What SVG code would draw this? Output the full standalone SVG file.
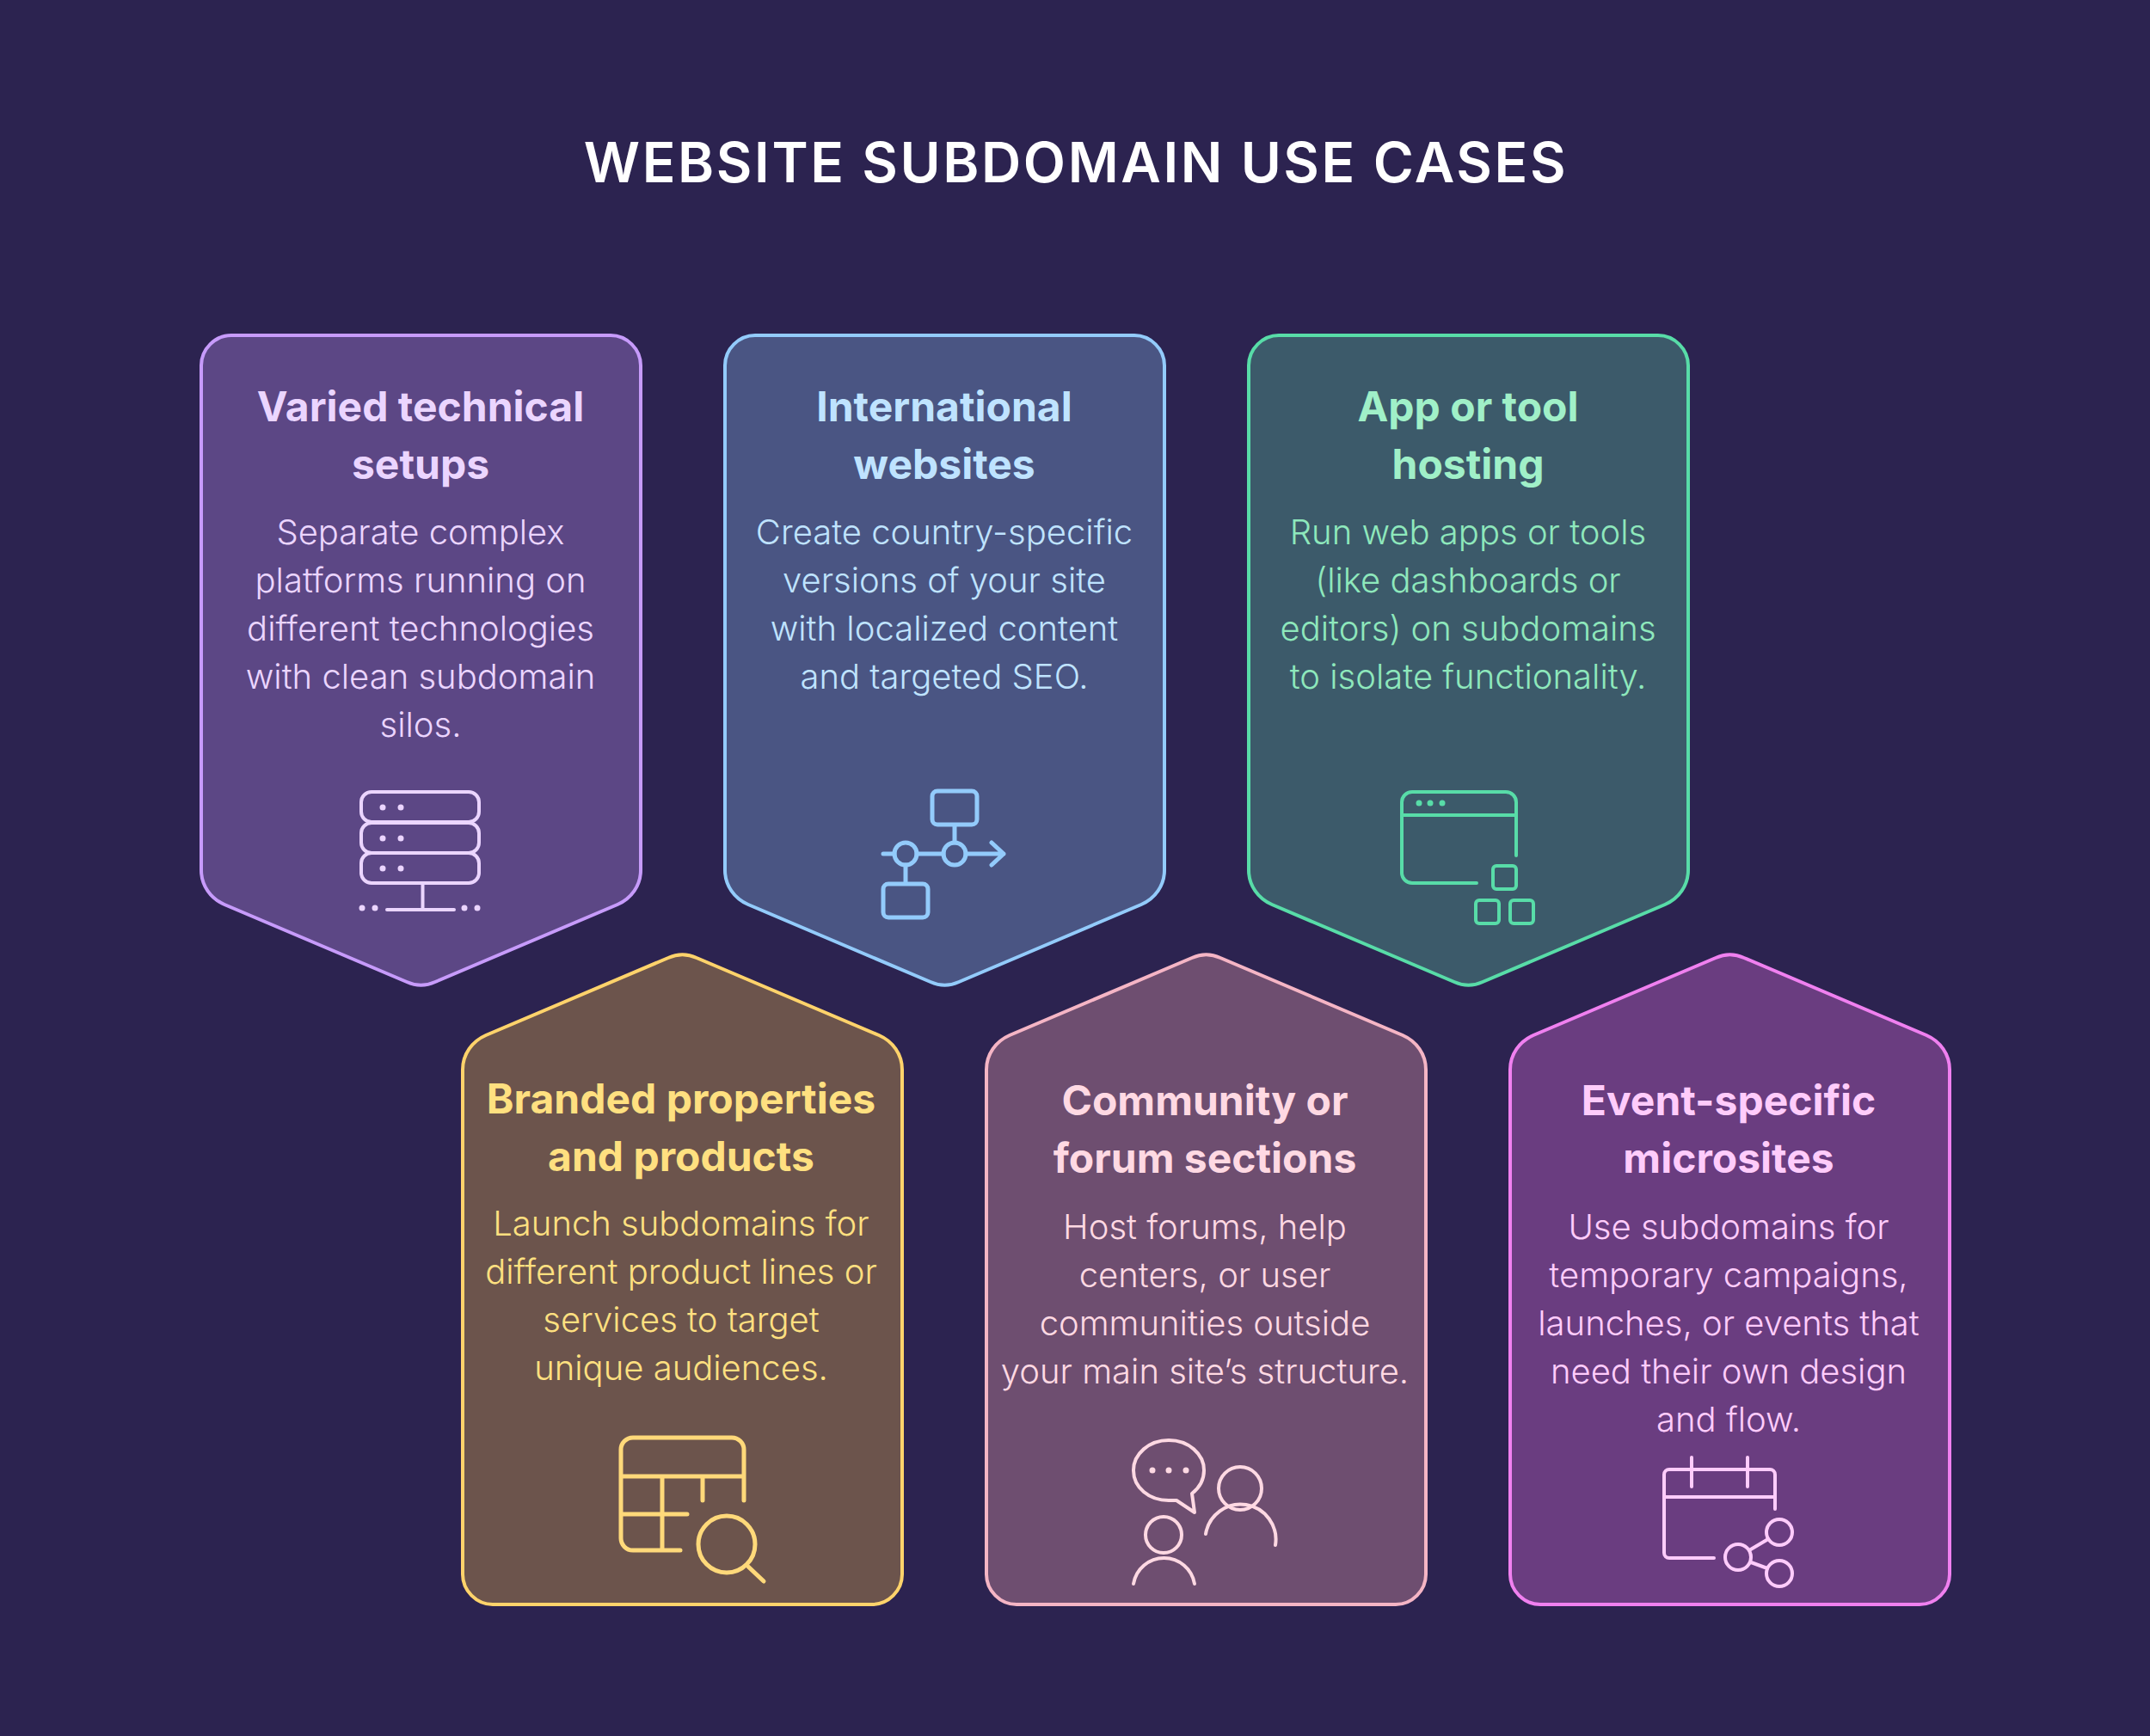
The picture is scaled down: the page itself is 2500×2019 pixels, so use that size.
<svg xmlns="http://www.w3.org/2000/svg" width="2500" height="2019" viewBox="0 0 2500 2019">
<style>
text{font-family:Inter,"Liberation Sans",sans-serif;text-anchor:middle}
.h{font-size:64px;font-weight:600;fill:#fff;letter-spacing:2.6px}
.t{font-size:48px;font-weight:700}
.b{font-size:40px;font-weight:300}
.shape{stroke-width:4}
.i{fill:none;stroke-linecap:round;stroke-linejoin:round;stroke-width:4}
.d{stroke:none}
</style>
<defs>
<path id="card" d="M35 0H476C495 0 511 16 511 35V622C511 640 500 655 484 662L272 752C261 757 250 757 239 752L27 662C11 655 0 640 0 622V35C0 16 16 0 35 0Z"/>
</defs>
<rect width="2500" height="2019" fill="#2c2350"/>
<text class="h" x="1251" y="212">WEBSITE SUBDOMAIN USE CASES</text>
<g id="connectors"></g>

<g id="node-technical">
<use href="#card" class="shape" transform="translate(234,390)" fill="#5c4785" stroke="#c79bfb"/>
<g fill="#ebd5ff">
<text class="t" x="489" y="490">Varied technical</text><text class="t" x="489" y="557">setups</text>
<text class="b" x="489" y="633">Separate complex</text><text class="b" x="489" y="689">platforms running on</text><text class="b" x="489" y="745">different technologies</text><text class="b" x="489" y="801">with clean subdomain</text><text class="b" x="489" y="857">silos.</text>
</g>
<g class="i" stroke="#ebd5ff">
<rect x="420" y="921" width="137" height="35" rx="12"/><rect x="420" y="957" width="137" height="35" rx="12"/><rect x="420" y="992" width="137" height="35" rx="12"/>
<path d="M491.500 1028V1058M450 1058H528"/>
</g>
<g class="d" fill="#ebd5ff">
<circle cx="445" cy="939" r="3.500"/><circle cx="466" cy="939" r="3.500"/><circle cx="445" cy="975" r="3.500"/><circle cx="466" cy="975" r="3.500"/><circle cx="445" cy="1010" r="3.500"/><circle cx="466" cy="1010" r="3.500"/>
<circle cx="421" cy="1056" r="3.500"/><circle cx="436" cy="1056" r="3.500"/><circle cx="540" cy="1056" r="3.500"/><circle cx="555" cy="1056" r="3.500"/>
</g>
</g>

<g id="node-international">
<use href="#card" class="shape" transform="translate(843,390)" fill="#4a5583" stroke="#93cbfb"/>
<g fill="#bfe3ff">
<text class="t" x="1098" y="490">International</text><text class="t" x="1098" y="557">websites</text>
<text class="b" x="1098" y="633">Create country-specific</text><text class="b" x="1098" y="689">versions of your site</text><text class="b" x="1098" y="745">with localized content</text><text class="b" x="1098" y="801">and targeted SEO.</text>
</g>
<g class="i" stroke="#93cbfb" style="stroke-width:5">
<rect x="1084" y="920" width="52" height="39" rx="6"/><rect x="1027" y="1028" width="52" height="39" rx="6"/>
<circle cx="1053" cy="993" r="13"/><circle cx="1110" cy="993" r="13"/>
<path d="M1027 993H1040M1066 993H1097M1123 993H1167M1153 980L1167 993L1153 1006M1110 960V980M1053 1006V1027"/>
</g>
</g>

<g id="node-app">
<use href="#card" class="shape" transform="translate(1452,390)" fill="#3c5a6a" stroke="#58dca8"/>
<g fill="#a0f0c8">
<text class="t" x="1707" y="490">App or tool</text><text class="t" x="1707" y="557">hosting</text>
</g>
<g fill="#8ee8bc">
<text class="b" x="1707" y="633">Run web apps or tools</text><text class="b" x="1707" y="689">(like dashboards or</text><text class="b" x="1707" y="745">editors) on subdomains</text><text class="b" x="1707" y="801">to isolate functionality.</text>
</g>
<g class="i" stroke="#58dca8">
<path d="M1763 995V933A12 12 0 0 0 1751 921H1642A12 12 0 0 0 1630 933V1015A12 12 0 0 0 1642 1027H1717M1630 948H1763"/>
<rect x="1736" y="1007" width="27" height="27" rx="4"/><rect x="1716" y="1047" width="27" height="27" rx="4"/><rect x="1756" y="1047" width="27" height="27" rx="4"/>
</g>
<g class="d" fill="#58dca8"><circle cx="1650" cy="934" r="3.500"/><circle cx="1663" cy="934" r="3.500"/><circle cx="1677" cy="934" r="3.500"/></g>
</g>

<g id="node-branded">
<use href="#card" class="shape" transform="translate(538,1866) scale(1,-1)" fill="#6c544c" stroke="#ffd36b"/>
<g fill="#ffe080">
<text class="t" x="792" y="1295">Branded properties</text><text class="t" x="792" y="1362">and products</text>
<text class="b" x="792" y="1437">Launch subdomains for</text><text class="b" x="792" y="1493">different product lines or</text><text class="b" x="792" y="1549">services to target</text><text class="b" x="792" y="1605">unique audiences.</text>
</g>
<g class="i" stroke="#ffd97a" style="stroke-width:5">
<path d="M865 1745V1686A14 14 0 0 0 851 1672H736A14 14 0 0 0 722 1686V1789A14 14 0 0 0 736 1803H791M722 1717H865M770 1717V1803M817 1717V1745M722 1761H799"/>
<circle cx="845" cy="1796" r="33"/><path d="M870 1822L888 1839"/>
</g>
</g>

<g id="node-community">
<use href="#card" class="shape" transform="translate(1147,1866) scale(1,-1)" fill="#6e4e70" stroke="#f5b5c5"/>
<g fill="#ffd9e3">
<text class="t" x="1401" y="1297">Community or</text><text class="t" x="1401" y="1364">forum sections</text>
<text class="b" x="1401" y="1441">Host forums, help</text><text class="b" x="1401" y="1497">centers, or user</text><text class="b" x="1401" y="1553">communities outside</text><text class="b" x="1401" y="1609">your main site’s structure.</text>
</g>
<g class="i" stroke="#ffd9e3">
<path d="M1368 1745C1362 1745 1358 1745 1359 1745C1336 1745 1318 1730 1318 1710C1318 1691 1336 1675 1359 1675C1382 1675 1400 1691 1400 1710C1400 1721 1395 1730 1386 1737L1389 1759Z"/>
<circle cx="1442" cy="1731" r="25"/><path d="M1402 1784A41 41 0 0 1 1483 1797"/>
<circle cx="1353" cy="1785" r="21"/><path d="M1318 1842A36 36 0 0 1 1389 1842"/>
</g>
<g class="d" fill="#ffd9e3"><circle cx="1340" cy="1710" r="3.500"/><circle cx="1359" cy="1710" r="3.500"/><circle cx="1379" cy="1710" r="3.500"/></g>
</g>

<g id="node-event">
<use href="#card" class="shape" transform="translate(1756,1866) scale(1,-1)" fill="#6a3d80" stroke="#f080f0"/>
<g fill="#ffccfb">
<text class="t" x="2010" y="1297">Event-specific</text><text class="t" x="2010" y="1364">microsites</text>
<text class="b" x="2010" y="1441">Use subdomains for</text><text class="b" x="2010" y="1497">temporary campaigns,</text><text class="b" x="2010" y="1553">launches, or events that</text><text class="b" x="2010" y="1609">need their own design</text><text class="b" x="2010" y="1665">and flow.</text>
</g>
<g class="i" stroke="#ffccfb">
<path d="M2064 1755V1715A6 6 0 0 0 2058 1709H1941A6 6 0 0 0 1935 1715V1806A6 6 0 0 0 1941 1812H1993M1935 1741H2064M1967 1695V1729M2032 1695V1729M2034 1803L2056 1790M2036 1817L2055 1824"/>
<circle cx="2021" cy="1811" r="15"/><circle cx="2069" cy="1782" r="15"/><circle cx="2069" cy="1830" r="15"/>
</g>
</g>
</svg>
